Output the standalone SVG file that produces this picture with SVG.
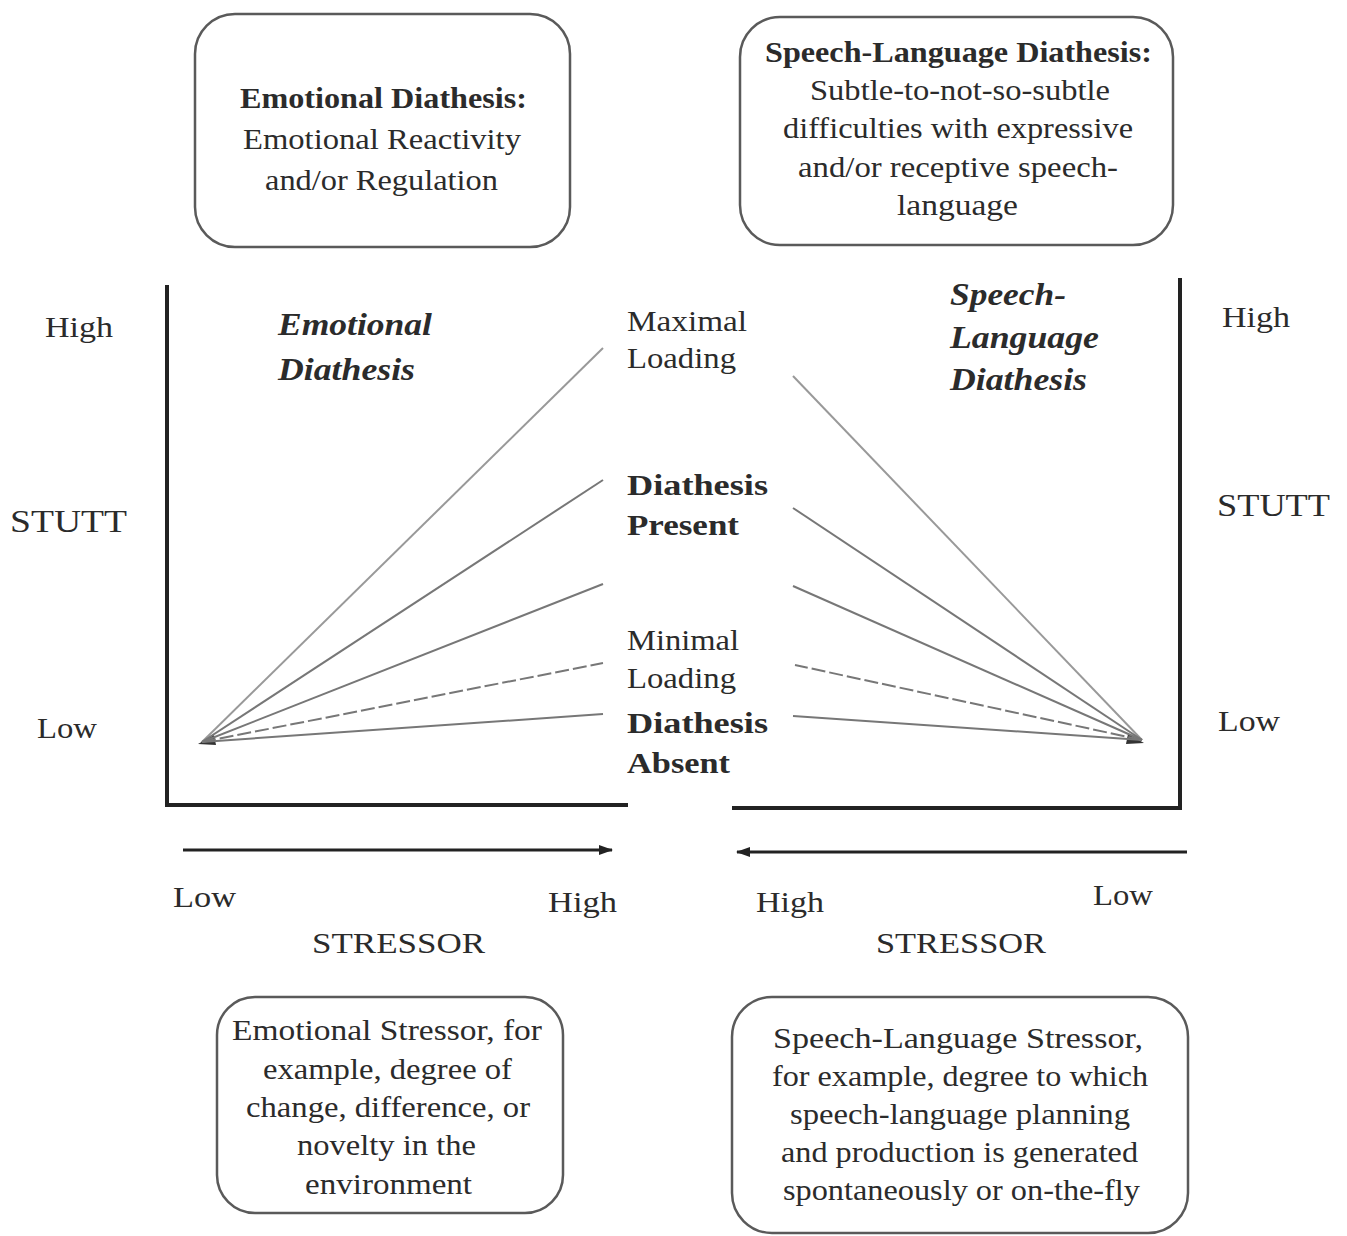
<svg xmlns="http://www.w3.org/2000/svg" width="1347" height="1236" viewBox="0 0 1347 1236">
<defs>
<style>
text{font-family:"Liberation Serif","Times New Roman",serif;fill:#2b2b2b;}
.box{fill:#fff;stroke:#5a5a5a;stroke-width:2.5;}
.bt{font-size:29px;}
.b{font-weight:bold;}
.lab{font-size:29px;}
.it{font-size:31px;font-style:italic;font-weight:bold;}
.axis{fill:none;stroke:#222;stroke-width:4;}
.fan{stroke:#777;stroke-width:2;fill:none;}
.light{stroke:#999;}
.dash{stroke-dasharray:14 4;}
.arr{stroke:#222;stroke-width:3;fill:none;}
</style>
<marker id="ah" viewBox="0 0 14 10" refX="13" refY="5" markerWidth="14" markerHeight="10" markerUnits="userSpaceOnUse" orient="auto-start-reverse">
<path d="M0,0 L14,5 L0,10 z" fill="#222"/>
</marker>
</defs>
<rect width="1347" height="1236" fill="#fff"/>

<g id="box-emotional-diathesis">
<rect class="box" x="195" y="14" width="375" height="233" rx="40"/>
<text class="bt b" x="240" y="108" textLength="287" lengthAdjust="spacingAndGlyphs">Emotional Diathesis:</text>
<text class="bt" x="243" y="149" textLength="278" lengthAdjust="spacingAndGlyphs">Emotional Reactivity</text>
<text class="bt" x="265" y="190" textLength="233" lengthAdjust="spacingAndGlyphs">and/or Regulation</text>
</g>

<g id="box-speech-diathesis">
<rect class="box" x="740" y="17" width="433" height="228" rx="40"/>
<text class="bt b" x="765" y="62" textLength="387" lengthAdjust="spacingAndGlyphs">Speech-Language Diathesis:</text>
<text class="bt" x="810" y="100" textLength="300" lengthAdjust="spacingAndGlyphs">Subtle-to-not-so-subtle</text>
<text class="bt" x="783" y="138" textLength="350" lengthAdjust="spacingAndGlyphs">difficulties with expressive</text>
<text class="bt" x="798" y="177" textLength="320" lengthAdjust="spacingAndGlyphs">and/or receptive speech-</text>
<text class="bt" x="897" y="215" textLength="121" lengthAdjust="spacingAndGlyphs">language</text>
</g>

<g id="box-emotional-stressor">
<rect class="box" x="217" y="997" width="346" height="216" rx="38"/>
<text class="bt" x="232" y="1040" textLength="310" lengthAdjust="spacingAndGlyphs">Emotional Stressor, for</text>
<text class="bt" x="263" y="1079" textLength="249" lengthAdjust="spacingAndGlyphs">example, degree of</text>
<text class="bt" x="246" y="1117" textLength="284" lengthAdjust="spacingAndGlyphs">change, difference, or</text>
<text class="bt" x="297" y="1155" textLength="179" lengthAdjust="spacingAndGlyphs">novelty in the</text>
<text class="bt" x="305" y="1194" textLength="167" lengthAdjust="spacingAndGlyphs">environment</text>
</g>

<g id="box-speech-stressor">
<rect class="box" x="732" y="997" width="456" height="236" rx="40"/>
<text class="bt" x="773" y="1048" textLength="370" lengthAdjust="spacingAndGlyphs">Speech-Language Stressor,</text>
<text class="bt" x="772" y="1086" textLength="376" lengthAdjust="spacingAndGlyphs">for example, degree to which</text>
<text class="bt" x="790" y="1124" textLength="340" lengthAdjust="spacingAndGlyphs">speech-language planning</text>
<text class="bt" x="781" y="1162" textLength="357" lengthAdjust="spacingAndGlyphs">and production is generated</text>
<text class="bt" x="783" y="1200" textLength="357" lengthAdjust="spacingAndGlyphs">spontaneously or on-the-fly</text>
</g>

<g id="left-graph">
<path class="axis" d="M167,285 V805 H628"/>
<text class="it" x="278" y="335" textLength="154" lengthAdjust="spacingAndGlyphs">Emotional</text>
<text class="it" x="278" y="380" textLength="137" lengthAdjust="spacingAndGlyphs">Diathesis</text>
<text class="lab" x="45" y="337" textLength="68" lengthAdjust="spacingAndGlyphs">High</text>
<text class="lab" x="10" y="532" style="font-size:31px" textLength="117" lengthAdjust="spacingAndGlyphs">STUTT</text>
<text class="lab" x="37" y="738" textLength="60" lengthAdjust="spacingAndGlyphs">Low</text>
<polygon points="198,744 214,735 216,745" fill="#333"/>
</g>

<g id="right-graph">
<path class="axis" d="M1180,278 V808 H732"/>
<text class="it" x="950" y="305" textLength="116" lengthAdjust="spacingAndGlyphs">Speech-</text>
<text class="it" x="950" y="348" textLength="149" lengthAdjust="spacingAndGlyphs">Language</text>
<text class="it" x="950" y="390" textLength="137" lengthAdjust="spacingAndGlyphs">Diathesis</text>
<text class="lab" x="1222" y="327" textLength="68" lengthAdjust="spacingAndGlyphs">High</text>
<text class="lab" x="1217" y="516" style="font-size:31px" textLength="113" lengthAdjust="spacingAndGlyphs">STUTT</text>
<text class="lab" x="1218" y="731" textLength="62" lengthAdjust="spacingAndGlyphs">Low</text>
<polygon points="1144,743 1128,734 1126,744" fill="#333"/>
</g>

<g id="loading-labels">
<text class="lab" x="627" y="331" textLength="120" lengthAdjust="spacingAndGlyphs">Maximal</text>
<text class="lab" x="627" y="368" textLength="109" lengthAdjust="spacingAndGlyphs">Loading</text>
<text class="lab b" x="627" y="495" textLength="141" lengthAdjust="spacingAndGlyphs">Diathesis</text>
<text class="lab b" x="627" y="535" textLength="112" lengthAdjust="spacingAndGlyphs">Present</text>
<text class="lab" x="627" y="650" textLength="112" lengthAdjust="spacingAndGlyphs">Minimal</text>
<text class="lab" x="627" y="688" textLength="109" lengthAdjust="spacingAndGlyphs">Loading</text>
<text class="lab b" x="627" y="733" textLength="141" lengthAdjust="spacingAndGlyphs">Diathesis</text>
<text class="lab b" x="627" y="773" textLength="103" lengthAdjust="spacingAndGlyphs">Absent</text>
</g>

<g id="stressor-axes">
<text class="lab" x="173" y="907" textLength="63" lengthAdjust="spacingAndGlyphs">Low</text>
<text class="lab" x="548" y="912" textLength="69" lengthAdjust="spacingAndGlyphs">High</text>
<text class="lab" x="312" y="953" textLength="173" lengthAdjust="spacingAndGlyphs">STRESSOR</text>
<text class="lab" x="756" y="912" textLength="68" lengthAdjust="spacingAndGlyphs">High</text>
<text class="lab" x="1093" y="905" textLength="60" lengthAdjust="spacingAndGlyphs">Low</text>
<text class="lab" x="876" y="953" textLength="170" lengthAdjust="spacingAndGlyphs">STRESSOR</text>
</g>

<g id="connectors">
<line class="fan light" x1="202" y1="742" x2="603" y2="348"/>
<line class="fan" x1="202" y1="742" x2="603" y2="480"/>
<line class="fan" x1="202" y1="742" x2="603" y2="584"/>
<line class="fan dash" x1="202" y1="742" x2="603" y2="663"/>
<line class="fan" x1="202" y1="742" x2="603" y2="714"/>
<line class="fan light" x1="1142" y1="740" x2="793" y2="376"/>
<line class="fan" x1="1142" y1="740" x2="793" y2="508"/>
<line class="fan" x1="1142" y1="740" x2="793" y2="586"/>
<line class="fan dash" x1="1142" y1="740" x2="795" y2="665"/>
<line class="fan" x1="1142" y1="740" x2="793" y2="716"/>
<line class="arr" x1="183" y1="850" x2="612" y2="850" marker-end="url(#ah)"/>
<line class="arr" x1="1187" y1="852" x2="737" y2="852" marker-end="url(#ah)"/>
</g>
</svg>
